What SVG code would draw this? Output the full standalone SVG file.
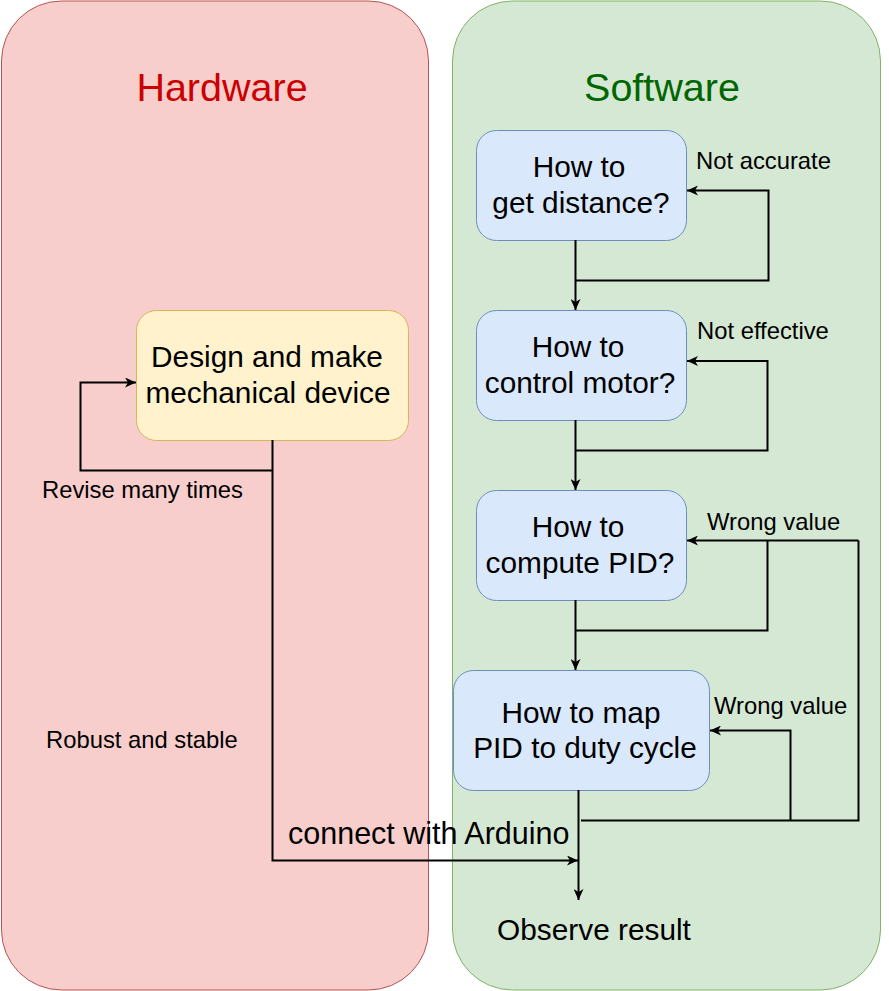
<svg xmlns="http://www.w3.org/2000/svg" width="889" height="991" viewBox="0 0 889 991">
<style>
text{font-family:"Liberation Sans",Arial,sans-serif;fill:#000}
.box{font-size:29.8px;text-anchor:middle}
.lbl{font-size:23.8px}
.title{font-size:39.5px;text-anchor:middle}
.edge{fill:none;stroke:#000;stroke-width:2}
.blue{fill:#dae8fc;stroke:#6c8ebf;stroke-width:1}
</style>
<defs>
<marker id="arr" markerUnits="userSpaceOnUse" markerWidth="12" markerHeight="10" refX="11" refY="5" orient="auto">
<path d="M0,0 L11,5 L0,10 L3,5 z" fill="#000"/>
</marker>
</defs>
<g id="hardware">
<rect x="1.5" y="1" width="427" height="989" rx="60" ry="60" fill="#f8cecc" stroke="#b85450" stroke-width="1"/>
<text class="title" x="222" y="101" style="fill:#cc0000">Hardware</text>
</g>
<g id="software">
<rect x="452.5" y="1" width="428" height="989" rx="60" ry="60" fill="#d5e8d4" stroke="#82b366" stroke-width="1"/>
<text class="title" x="662" y="101" style="fill:#006600">Software</text>
</g>
<g id="design">
<rect x="136.5" y="310.5" width="272" height="130" rx="20" ry="20" fill="#fff2cc" stroke="#d6b656" stroke-width="1"/>
<text class="box" x="267" y="367">Design and make</text>
<text class="box" x="268" y="403">mechanical device</text>
</g>
<g id="getdist">
<rect class="blue" x="476.5" y="130.5" width="210" height="110" rx="20" ry="20"/>
<text class="box" x="579" y="177">How to</text>
<text class="box" x="581" y="213">get distance?</text>
</g>
<g id="motor">
<rect class="blue" x="476.5" y="310.5" width="210" height="110" rx="20" ry="20"/>
<text class="box" x="578" y="357">How to</text>
<text class="box" x="580" y="393">control motor?</text>
</g>
<g id="pid">
<rect class="blue" x="476.5" y="490.5" width="210" height="110" rx="20" ry="20"/>
<text class="box" x="578" y="537">How to</text>
<text class="box" x="580" y="573">compute PID?</text>
</g>
<g id="map">
<rect class="blue" x="453.5" y="670.5" width="256" height="120" rx="20" ry="20"/>
<text class="box" x="581" y="723">How to map</text>
<text class="box" x="585" y="758">PID to duty cycle</text>
</g>
<g id="observe">
<text class="box" x="594" y="940">Observe result</text>
</g>
<g id="connectors">
<path class="edge" d="M575.5,240 V310" marker-end="url(#arr)"/>
<path class="edge" d="M575.5,280.5 H768.5 V190.5 H687" marker-end="url(#arr)"/>
<path class="edge" d="M575.5,420 V490" marker-end="url(#arr)"/>
<path class="edge" d="M575.5,450.5 H767.5 V361 H687" marker-end="url(#arr)"/>
<path class="edge" d="M575.5,600 V670" marker-end="url(#arr)"/>
<path class="edge" d="M575.5,630.5 H767.5 V540.5"/>
<path class="edge" d="M858.5,540.5 H687" marker-end="url(#arr)"/>
<path class="edge" d="M578.5,790 V900" marker-end="url(#arr)"/>
<path class="edge" d="M581,820.5 H858.5 V540.5"/>
<path class="edge" d="M790.5,820.5 V730.5 H710" marker-end="url(#arr)"/>
<path class="edge" d="M272.5,440 V860.5 H578" marker-end="url(#arr)"/>
<path class="edge" d="M272.5,470.5 H80.5 V382.5 H136" marker-end="url(#arr)"/>
<text class="lbl" x="696" y="169">Not accurate</text>
<text class="lbl" x="697" y="339">Not effective</text>
<text class="lbl" x="707" y="530">Wrong value</text>
<text class="lbl" x="714" y="714">Wrong value</text>
<text class="lbl" x="42" y="498">Revise many times</text>
<text class="lbl" x="46" y="748">Robust and stable</text>
<text class="box" x="288" y="844" style="text-anchor:start;font-size:30.5px">connect with Arduino</text>
</g>
</svg>
